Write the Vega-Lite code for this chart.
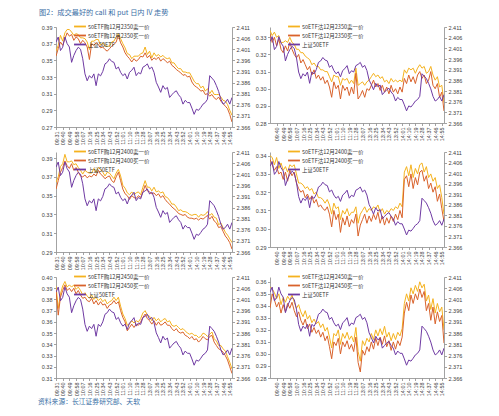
{
"$schema":"https://vega.github.io/schema/vega-lite/v6.json",
"padding":{"left":38,"top":8,"right":5,"bottom":4},
"title":{"text":"图2：成交最好的 call 和 put 日内 IV 走势","anchor":"start","frame":"group","dx":-17,"offset":6,"fontSize":7.2,"font":"Noto Sans CJK SC","fontWeight":"normal","color":"#3b6fa6"},
"data":{"values":[
{"t":"09:31","e":2.4042,"a1":0.361,"b1":0.355,"a2":0.334,"b2":0.332,"a3":0.364,"b3":0.357,"a4":0.340,"b4":0.338,"a5":0.392,"b5":0.388,"a6":0.356,"b6":0.338},
{"t":"09:34","e":2.4065,"a1":0.368,"b1":0.364,"a2":0.331,"b2":0.327,"a3":0.370,"b3":0.366,"a4":0.339,"b4":0.335,"a5":0.372,"b5":0.366,"a6":0.354,"b6":0.350},
{"t":"09:37","e":2.4004,"a1":0.380,"b1":0.372,"a2":0.333,"b2":0.330,"a3":0.381,"b3":0.375,"a4":0.335,"b4":0.332,"a5":0.385,"b5":0.382,"a6":0.351,"b6":0.345},
{"t":"09:40","e":2.4019,"a1":0.373,"b1":0.368,"a2":0.330,"b2":0.325,"a3":0.384,"b3":0.380,"a4":0.339,"b4":0.334,"a5":0.392,"b5":0.388,"a6":0.346,"b6":0.339},
{"t":"09:43","e":2.4065,"a1":0.383,"b1":0.376,"a2":0.331,"b2":0.329,"a3":0.394,"b3":0.387,"a4":0.333,"b4":0.330,"a5":0.396,"b5":0.393,"a6":0.350,"b6":0.343},
{"t":"09:46","e":2.4035,"a1":0.387,"b1":0.383,"a2":0.327,"b2":0.323,"a3":0.386,"b3":0.382,"a4":0.336,"b4":0.331,"a5":0.391,"b5":0.388,"a6":0.341,"b6":0.334},
{"t":"09:49","e":2.4020,"a1":0.387,"b1":0.379,"a2":0.327,"b2":0.321,"a3":0.386,"b3":0.379,"a4":0.332,"b4":0.327,"a5":0.393,"b5":0.390,"a6":0.347,"b6":0.341},
{"t":"09:52","e":2.3951,"a1":0.384,"b1":0.381,"a2":0.328,"b2":0.325,"a3":0.387,"b3":0.384,"a4":0.334,"b4":0.331,"a5":0.391,"b5":0.387,"a6":0.343,"b6":0.335},
{"t":"09:55","e":2.3982,"a1":0.380,"b1":0.374,"a2":0.327,"b2":0.322,"a3":0.383,"b3":0.377,"a4":0.331,"b4":0.326,"a5":0.393,"b5":0.390,"a6":0.348,"b6":0.342},
{"t":"09:58","e":2.4004,"a1":0.382,"b1":0.378,"a2":0.330,"b2":0.327,"a3":0.384,"b3":0.380,"a4":0.335,"b4":0.332,"a5":0.389,"b5":0.385,"a6":0.345,"b6":0.338},
{"t":"10:01","e":2.4019,"a1":0.381,"b1":0.376,"a2":0.327,"b2":0.323,"a3":0.380,"b3":0.375,"a4":0.334,"b4":0.329,"a5":0.391,"b5":0.388,"a6":0.349,"b6":0.343},
{"t":"10:04","e":2.4010,"a1":0.377,"b1":0.370,"a2":0.326,"b2":0.320,"a3":0.377,"b3":0.371,"a4":0.335,"b4":0.331,"a5":0.388,"b5":0.384,"a6":0.343,"b6":0.336},
{"t":"10:07","e":2.3967,"a1":0.377,"b1":0.374,"a2":0.323,"b2":0.318,"a3":0.373,"b3":0.370,"a4":0.330,"b4":0.325,"a5":0.384,"b5":0.381,"a6":0.338,"b6":0.331},
{"t":"10:10","e":2.3899,"a1":0.376,"b1":0.371,"a2":0.323,"b2":0.320,"a3":0.377,"b3":0.372,"a4":0.325,"b4":0.322,"a5":0.386,"b5":0.382,"a6":0.341,"b6":0.335},
{"t":"10:13","e":2.3868,"a1":0.372,"b1":0.366,"a2":0.321,"b2":0.315,"a3":0.375,"b3":0.369,"a4":0.325,"b4":0.320,"a5":0.383,"b5":0.379,"a6":0.335,"b6":0.328},
{"t":"10:16","e":2.3891,"a1":0.363,"b1":0.351,"a2":0.321,"b2":0.317,"a3":0.374,"b3":0.371,"a4":0.324,"b4":0.321,"a5":0.381,"b5":0.378,"a6":0.331,"b6":0.324},
{"t":"10:19","e":2.3880,"a1":0.373,"b1":0.370,"a2":0.319,"b2":0.314,"a3":0.374,"b3":0.370,"a4":0.322,"b4":0.317,"a5":0.384,"b5":0.381,"a6":0.336,"b6":0.329},
{"t":"10:22","e":2.3899,"a1":0.373,"b1":0.368,"a2":0.318,"b2":0.311,"a3":0.379,"b3":0.373,"a4":0.323,"b4":0.319,"a5":0.380,"b5":0.376,"a6":0.329,"b6":0.321},
{"t":"10:25","e":2.3846,"a1":0.375,"b1":0.371,"a2":0.317,"b2":0.313,"a3":0.375,"b3":0.371,"a4":0.321,"b4":0.316,"a5":0.382,"b5":0.379,"a6":0.332,"b6":0.325},
{"t":"10:28","e":2.3899,"a1":0.375,"b1":0.369,"a2":0.314,"b2":0.308,"a3":0.380,"b3":0.377,"a4":0.322,"b4":0.318,"a5":0.379,"b5":0.375,"a6":0.326,"b6":0.318},
{"t":"10:31","e":2.3890,"a1":0.368,"b1":0.365,"a2":0.315,"b2":0.311,"a3":0.378,"b3":0.373,"a4":0.319,"b4":0.314,"a5":0.381,"b5":0.378,"a6":0.329,"b6":0.322},
{"t":"10:34","e":2.3910,"a1":0.371,"b1":0.366,"a2":0.313,"b2":0.306,"a3":0.375,"b3":0.371,"a4":0.320,"b4":0.316,"a5":0.378,"b5":0.375,"a6":0.325,"b6":0.317},
{"t":"10:37","e":2.3944,"a1":0.367,"b1":0.363,"a2":0.313,"b2":0.308,"a3":0.371,"b3":0.368,"a4":0.317,"b4":0.312,"a5":0.380,"b5":0.376,"a6":0.327,"b6":0.320},
{"t":"10:40","e":2.3951,"a1":0.367,"b1":0.361,"a2":0.311,"b2":0.305,"a3":0.375,"b3":0.370,"a4":0.317,"b4":0.313,"a5":0.376,"b5":0.372,"a6":0.322,"b6":0.314},
{"t":"10:43","e":2.3967,"a1":0.367,"b1":0.364,"a2":0.311,"b2":0.307,"a3":0.374,"b3":0.371,"a4":0.316,"b4":0.311,"a5":0.378,"b5":0.375,"a6":0.325,"b6":0.318},
{"t":"10:46","e":2.3955,"a1":0.372,"b1":0.367,"a2":0.310,"b2":0.303,"a3":0.371,"b3":0.366,"a4":0.314,"b4":0.310,"a5":0.379,"b5":0.376,"a6":0.319,"b6":0.311},
{"t":"10:49","e":2.3951,"a1":0.373,"b1":0.369,"a2":0.310,"b2":0.305,"a3":0.368,"b3":0.364,"a4":0.316,"b4":0.312,"a5":0.382,"b5":0.379,"a6":0.322,"b6":0.315},
{"t":"10:52","e":2.3921,"a1":0.378,"b1":0.372,"a2":0.307,"b2":0.301,"a3":0.374,"b3":0.370,"a4":0.313,"b4":0.308,"a5":0.379,"b5":0.376,"a6":0.314,"b6":0.306},
{"t":"10:55","e":2.3930,"a1":0.382,"b1":0.380,"a2":0.304,"b2":0.295,"a3":0.378,"b3":0.375,"a4":0.308,"b4":0.301,"a5":0.382,"b5":0.378,"a6":0.305,"b6":0.296},
{"t":"10:58","e":2.3906,"a1":0.376,"b1":0.371,"a2":0.308,"b2":0.304,"a3":0.371,"b3":0.366,"a4":0.314,"b4":0.310,"a5":0.374,"b5":0.370,"a6":0.317,"b6":0.310},
{"t":"11:01","e":2.3891,"a1":0.370,"b1":0.366,"a2":0.307,"b2":0.300,"a3":0.361,"b3":0.357,"a4":0.311,"b4":0.305,"a5":0.367,"b5":0.364,"a6":0.315,"b6":0.307},
{"t":"11:04","e":2.3900,"a1":0.365,"b1":0.359,"a2":0.307,"b2":0.302,"a3":0.358,"b3":0.352,"a4":0.312,"b4":0.308,"a5":0.363,"b5":0.360,"a6":0.320,"b6":0.313},
{"t":"11:07","e":2.3876,"a1":0.358,"b1":0.355,"a2":0.302,"b2":0.294,"a3":0.353,"b3":0.350,"a4":0.305,"b4":0.298,"a5":0.357,"b5":0.352,"a6":0.308,"b6":0.300},
{"t":"11:10","e":2.3906,"a1":0.357,"b1":0.352,"a2":0.306,"b2":0.302,"a3":0.351,"b3":0.346,"a4":0.310,"b4":0.306,"a5":0.358,"b5":0.355,"a6":0.317,"b6":0.310},
{"t":"11:13","e":2.3915,"a1":0.352,"b1":0.348,"a2":0.305,"b2":0.299,"a3":0.354,"b3":0.350,"a4":0.308,"b4":0.302,"a5":0.361,"b5":0.358,"a6":0.313,"b6":0.306},
{"t":"11:16","e":2.3929,"a1":0.355,"b1":0.352,"a2":0.306,"b2":0.301,"a3":0.351,"b3":0.348,"a4":0.311,"b4":0.307,"a5":0.359,"b5":0.355,"a6":0.318,"b6":0.311},
{"t":"11:19","e":2.3891,"a1":0.355,"b1":0.349,"a2":0.303,"b2":0.296,"a3":0.353,"b3":0.347,"a4":0.307,"b4":0.301,"a5":0.361,"b5":0.358,"a6":0.312,"b6":0.304},
{"t":"11:22","e":2.3905,"a1":0.355,"b1":0.351,"a2":0.305,"b2":0.301,"a3":0.354,"b3":0.350,"a4":0.309,"b4":0.305,"a5":0.360,"b5":0.357,"a6":0.315,"b6":0.308},
{"t":"11:25","e":2.3899,"a1":0.358,"b1":0.355,"a2":0.303,"b2":0.297,"a3":0.351,"b3":0.348,"a4":0.309,"b4":0.303,"a5":0.363,"b5":0.360,"a6":0.310,"b6":0.302},
{"t":"11:28","e":2.3929,"a1":0.359,"b1":0.354,"a2":0.312,"b2":0.309,"a3":0.359,"b3":0.354,"a4":0.312,"b4":0.308,"a5":0.368,"b5":0.364,"a6":0.322,"b6":0.314},
{"t":"13:01","e":2.3935,"a1":0.366,"b1":0.359,"a2":0.302,"b2":0.294,"a3":0.366,"b3":0.361,"a4":0.303,"b4":0.296,"a5":0.370,"b5":0.367,"a6":0.302,"b6":0.293},
{"t":"13:04","e":2.3944,"a1":0.357,"b1":0.353,"a2":0.303,"b2":0.296,"a3":0.359,"b3":0.355,"a4":0.308,"b4":0.302,"a5":0.366,"b5":0.363,"a6":0.294,"b6":0.285},
{"t":"13:07","e":2.3921,"a1":0.361,"b1":0.356,"a2":0.304,"b2":0.299,"a3":0.359,"b3":0.354,"a4":0.310,"b4":0.305,"a5":0.365,"b5":0.361,"a6":0.311,"b6":0.303},
{"t":"13:10","e":2.3930,"a1":0.353,"b1":0.350,"a2":0.302,"b2":0.295,"a3":0.355,"b3":0.352,"a4":0.312,"b4":0.308,"a5":0.361,"b5":0.358,"a6":0.307,"b6":0.299},
{"t":"13:13","e":2.3906,"a1":0.359,"b1":0.353,"a2":0.304,"b2":0.300,"a3":0.359,"b3":0.353,"a4":0.309,"b4":0.303,"a5":0.364,"b5":0.361,"a6":0.313,"b6":0.306},
{"t":"13:16","e":2.3861,"a1":0.355,"b1":0.351,"a2":0.305,"b2":0.299,"a3":0.354,"b3":0.350,"a4":0.311,"b4":0.307,"a5":0.361,"b5":0.357,"a6":0.310,"b6":0.302},
{"t":"13:19","e":2.3840,"a1":0.357,"b1":0.354,"a2":0.307,"b2":0.302,"a3":0.355,"b3":0.352,"a4":0.310,"b4":0.304,"a5":0.363,"b5":0.360,"a6":0.317,"b6":0.310},
{"t":"13:22","e":2.3816,"a1":0.354,"b1":0.349,"a2":0.309,"b2":0.305,"a3":0.353,"b3":0.348,"a4":0.312,"b4":0.308,"a5":0.360,"b5":0.357,"a6":0.312,"b6":0.304},
{"t":"13:25","e":2.3846,"a1":0.356,"b1":0.352,"a2":0.307,"b2":0.301,"a3":0.354,"b3":0.350,"a4":0.311,"b4":0.305,"a5":0.362,"b5":0.358,"a6":0.320,"b6":0.313},
{"t":"13:28","e":2.3830,"a1":0.353,"b1":0.350,"a2":0.308,"b2":0.303,"a3":0.349,"b3":0.346,"a4":0.313,"b4":0.309,"a5":0.363,"b5":0.360,"a6":0.315,"b6":0.307},
{"t":"13:31","e":2.3838,"a1":0.352,"b1":0.347,"a2":0.306,"b2":0.299,"a3":0.348,"b3":0.343,"a4":0.309,"b4":0.303,"a5":0.360,"b5":0.357,"a6":0.321,"b6":0.314},
{"t":"13:34","e":2.3793,"a1":0.353,"b1":0.349,"a2":0.307,"b2":0.302,"a3":0.345,"b3":0.341,"a4":0.311,"b4":0.307,"a5":0.361,"b5":0.357,"a6":0.316,"b6":0.308},
{"t":"13:37","e":2.3805,"a1":0.347,"b1":0.344,"a2":0.304,"b2":0.298,"a3":0.341,"b3":0.338,"a4":0.308,"b4":0.302,"a5":0.357,"b5":0.354,"a6":0.323,"b6":0.315},
{"t":"13:40","e":2.3816,"a1":0.347,"b1":0.342,"a2":0.305,"b2":0.301,"a3":0.341,"b3":0.336,"a4":0.310,"b4":0.306,"a5":0.356,"b5":0.352,"a6":0.314,"b6":0.306},
{"t":"13:43","e":2.3823,"a1":0.343,"b1":0.339,"a2":0.303,"b2":0.297,"a3":0.338,"b3":0.334,"a4":0.309,"b4":0.303,"a5":0.357,"b5":0.354,"a6":0.318,"b6":0.311},
{"t":"13:46","e":2.3805,"a1":0.340,"b1":0.337,"a2":0.306,"b2":0.302,"a3":0.334,"b3":0.331,"a4":0.311,"b4":0.307,"a5":0.355,"b5":0.351,"a6":0.311,"b6":0.303},
{"t":"13:49","e":2.3793,"a1":0.340,"b1":0.335,"a2":0.304,"b2":0.298,"a3":0.335,"b3":0.330,"a4":0.310,"b4":0.304,"a5":0.353,"b5":0.350,"a6":0.317,"b6":0.310},
{"t":"13:52","e":2.3763,"a1":0.336,"b1":0.332,"a2":0.305,"b2":0.300,"a3":0.333,"b3":0.329,"a4":0.312,"b4":0.308,"a5":0.354,"b5":0.351,"a6":0.312,"b6":0.304},
{"t":"13:55","e":2.3780,"a1":0.336,"b1":0.333,"a2":0.304,"b2":0.297,"a3":0.333,"b3":0.330,"a4":0.311,"b4":0.305,"a5":0.352,"b5":0.348,"a6":0.318,"b6":0.311},
{"t":"13:58","e":2.3770,"a1":0.335,"b1":0.330,"a2":0.305,"b2":0.301,"a3":0.332,"b3":0.327,"a4":0.314,"b4":0.310,"a5":0.350,"b5":0.347,"a6":0.315,"b6":0.307},
{"t":"14:01","e":2.3770,"a1":0.335,"b1":0.331,"a2":0.304,"b2":0.298,"a3":0.330,"b3":0.326,"a4":0.312,"b4":0.306,"a5":0.349,"b5":0.345,"a6":0.321,"b6":0.314},
{"t":"14:04","e":2.3745,"a1":0.330,"b1":0.324,"a2":0.311,"b2":0.306,"a3":0.329,"b3":0.326,"a4":0.331,"b4":0.327,"a5":0.350,"b5":0.347,"a6":0.342,"b6":0.334},
{"t":"14:07","e":2.3717,"a1":0.325,"b1":0.320,"a2":0.309,"b2":0.303,"a3":0.330,"b3":0.325,"a4":0.334,"b4":0.329,"a5":0.348,"b5":0.344,"a6":0.350,"b6":0.343},
{"t":"14:10","e":2.3740,"a1":0.322,"b1":0.318,"a2":0.312,"b2":0.308,"a3":0.330,"b3":0.326,"a4":0.329,"b4":0.323,"a5":0.348,"b5":0.345,"a6":0.344,"b6":0.336},
{"t":"14:13","e":2.3735,"a1":0.322,"b1":0.316,"a2":0.311,"b2":0.304,"a3":0.327,"b3":0.324,"a4":0.335,"b4":0.330,"a5":0.346,"b5":0.342,"a6":0.355,"b6":0.349},
{"t":"14:16","e":2.3748,"a1":0.317,"b1":0.313,"a2":0.312,"b2":0.307,"a3":0.330,"b3":0.326,"a4":0.328,"b4":0.322,"a5":0.347,"b5":0.344,"a6":0.350,"b6":0.342},
{"t":"14:19","e":2.3763,"a1":0.319,"b1":0.314,"a2":0.309,"b2":0.303,"a3":0.329,"b3":0.325,"a4":0.333,"b4":0.328,"a5":0.350,"b5":0.347,"a6":0.357,"b6":0.350},
{"t":"14:22","e":2.3770,"a1":0.313,"b1":0.309,"a2":0.312,"b2":0.308,"a3":0.330,"b3":0.327,"a4":0.330,"b4":0.324,"a5":0.349,"b5":0.345,"a6":0.352,"b6":0.345},
{"t":"14:25","e":2.3785,"a1":0.316,"b1":0.310,"a2":0.314,"b2":0.310,"a3":0.333,"b3":0.329,"a4":0.335,"b4":0.331,"a5":0.347,"b5":0.344,"a6":0.360,"b6":0.354},
{"t":"14:28","e":2.3891,"a1":0.310,"b1":0.307,"a2":0.312,"b2":0.306,"a3":0.329,"b3":0.325,"a4":0.336,"b4":0.332,"a5":0.349,"b5":0.347,"a6":0.355,"b6":0.347},
{"t":"14:31","e":2.3880,"a1":0.314,"b1":0.309,"a2":0.313,"b2":0.308,"a3":0.331,"b3":0.328,"a4":0.331,"b4":0.326,"a5":0.351,"b5":0.348,"a6":0.358,"b6":0.352},
{"t":"14:34","e":2.3868,"a1":0.309,"b1":0.305,"a2":0.309,"b2":0.303,"a3":0.327,"b3":0.323,"a4":0.334,"b4":0.329,"a5":0.345,"b5":0.342,"a6":0.344,"b6":0.336},
{"t":"14:37","e":2.3846,"a1":0.309,"b1":0.303,"a2":0.310,"b2":0.305,"a3":0.326,"b3":0.321,"a4":0.328,"b4":0.322,"a5":0.343,"b5":0.339,"a6":0.349,"b6":0.342},
{"t":"14:40","e":2.3820,"a1":0.309,"b1":0.306,"a2":0.313,"b2":0.310,"a3":0.319,"b3":0.316,"a4":0.330,"b4":0.325,"a5":0.339,"b5":0.336,"a6":0.337,"b6":0.328},
{"t":"14:43","e":2.3785,"a1":0.306,"b1":0.301,"a2":0.308,"b2":0.302,"a3":0.321,"b3":0.317,"a4":0.326,"b4":0.320,"a5":0.339,"b5":0.335,"a6":0.346,"b6":0.339},
{"t":"14:46","e":2.3763,"a1":0.302,"b1":0.298,"a2":0.305,"b2":0.300,"a3":0.316,"b3":0.312,"a4":0.328,"b4":0.323,"a5":0.336,"b5":0.333,"a6":0.334,"b6":0.325},
{"t":"14:49","e":2.3770,"a1":0.301,"b1":0.295,"a2":0.307,"b2":0.303,"a3":0.311,"b3":0.307,"a4":0.322,"b4":0.315,"a5":0.334,"b5":0.330,"a6":0.342,"b6":0.335},
{"t":"14:52","e":2.3785,"a1":0.297,"b1":0.292,"a2":0.301,"b2":0.295,"a3":0.308,"b3":0.304,"a4":0.324,"b4":0.319,"a5":0.329,"b5":0.326,"a6":0.335,"b6":0.327},
{"t":"14:55","e":2.3763,"a1":0.290,"b1":0.285,"a2":0.302,"b2":0.298,"a3":0.304,"b3":0.300,"a4":0.317,"b4":0.311,"a5":0.324,"b5":0.320,"a6":0.339,"b6":0.332},
{"t":"14:58","e":2.3793,"a1":0.284,"b1":0.276,"a2":0.292,"b2":0.287,"a3":0.300,"b3":0.293,"a4":0.308,"b4":0.304,"a5":0.318,"b5":0.314,"a6":0.320,"b6":0.309}
]},
"columns":2,
"spacing":{"row":25,"column":38},
"bounds":"flush",
"resolve":{"scale":{"color":"independent"},"legend":{"color":"independent"}},
"concat":[
{"width":176,"height":100,
 "transform":[{"fold":["a1","b1","e"],"as":["k","v"]}],
 "encoding":{"x":{"field":"t","type":"ordinal","scale":{"type":"point","padding":0},"axis":{"values":["09:31","09:40","09:49","09:58","10:07","10:16","10:25","10:34","10:43","10:52","11:01","11:10","11:19","11:28","13:07","13:16","13:25","13:34","13:43","13:52","14:01","14:10","14:19","14:28","14:37","14:46","14:55"],"labelAngle":-90,"title":null,"labelOverlap":false}}},
 "layer":[
  {"transform":[{"filter":"datum.k!='e'"}],"mark":{"type":"line","strokeWidth":1,"clip":true},
   "encoding":{"y":{"field":"v","type":"quantitative","scale":{"domain":[0.27,0.39],"zero":false,"nice":false},"axis":{"values":[0.27,0.29,0.31,0.33,0.35,0.37,0.39],"format":".2f","title":null}},
    "color":{"field":"k","type":"nominal","scale":{"domain":["a1","b1","e"],"range":["#F5B21E","#D9622B","#6F3AA3"]},"legend":{"title":null,"labelExpr":"datum.label=='e'?'上证50ETF':datum.label=='a1'?'50ETF购12月2350卖一价':'50ETF购12月2350买一价'"}}}},
  {"transform":[{"filter":"datum.k=='e'"}],"mark":{"type":"line","strokeWidth":1,"clip":true},
   "encoding":{"y":{"field":"v","type":"quantitative","scale":{"domain":[2.366,2.411],"zero":false,"nice":false},"axis":{"orient":"right","values":[2.366,2.371,2.376,2.381,2.386,2.391,2.396,2.401,2.406,2.411],"format":".3f","title":null}},"color":{"field":"k","type":"nominal"}}}
 ],
 "resolve":{"scale":{"y":"independent"}}},
{"width":174,"height":96,
 "transform":[{"fold":["a2","b2","e"],"as":["k","v"]}],
 "encoding":{"x":{"field":"t","type":"ordinal","scale":{"type":"point","padding":0},"axis":{"values":["09:31","09:40","09:49","09:58","10:07","10:16","10:25","10:34","10:43","10:52","11:01","11:10","11:19","11:28","13:07","13:16","13:25","13:34","13:43","13:52","14:01","14:10","14:19","14:28","14:37","14:46","14:55"],"labelAngle":-90,"title":null,"labelOverlap":false}}},
 "layer":[
  {"transform":[{"filter":"datum.k!='e'"}],"mark":{"type":"line","strokeWidth":1,"clip":true},
   "encoding":{"y":{"field":"v","type":"quantitative","scale":{"domain":[0.28,0.336],"zero":false,"nice":false},"axis":{"values":[0.28,0.29,0.30,0.31,0.32,0.33],"format":".2f","title":null}},
    "color":{"field":"k","type":"nominal","scale":{"domain":["a2","b2","e"],"range":["#F5B21E","#D9622B","#6F3AA3"]},"legend":{"title":null,"labelExpr":"datum.label=='e'?'上证50ETF':datum.label=='a2'?'50ETF沽12月2350卖一价':'50ETF沽12月2350买一价'"}}}},
  {"transform":[{"filter":"datum.k=='e'"}],"mark":{"type":"line","strokeWidth":1,"clip":true},
   "encoding":{"y":{"field":"v","type":"quantitative","scale":{"domain":[2.366,2.411],"zero":false,"nice":false},"axis":{"orient":"right","values":[2.366,2.371,2.376,2.381,2.386,2.391,2.396,2.401,2.406,2.411],"format":".3f","title":null}},"color":{"field":"k","type":"nominal"}}}
 ],
 "resolve":{"scale":{"y":"independent"}}},
{"width":176,"height":100,
 "transform":[{"fold":["a3","b3","e"],"as":["k","v"]}],
 "encoding":{"x":{"field":"t","type":"ordinal","scale":{"type":"point","padding":0},"axis":{"values":["09:31","09:40","09:49","09:58","10:07","10:16","10:25","10:34","10:43","10:52","11:01","11:10","11:19","11:28","13:07","13:16","13:25","13:34","13:43","13:52","14:01","14:10","14:19","14:28","14:37","14:46","14:55"],"labelAngle":-90,"title":null,"labelOverlap":false}}},
 "layer":[
  {"transform":[{"filter":"datum.k!='e'"}],"mark":{"type":"line","strokeWidth":1,"clip":true},
   "encoding":{"y":{"field":"v","type":"quantitative","scale":{"domain":[0.29,0.3965],"zero":false,"nice":false},"axis":{"values":[0.29,0.31,0.33,0.35,0.37,0.39],"format":".2f","title":null}},
    "color":{"field":"k","type":"nominal","scale":{"domain":["a3","b3","e"],"range":["#F5B21E","#D9622B","#6F3AA3"]},"legend":{"title":null,"labelExpr":"datum.label=='e'?'上证50ETF':datum.label=='a3'?'50ETF购12月2400卖一价':'50ETF购12月2400买一价'"}}}},
  {"transform":[{"filter":"datum.k=='e'"}],"mark":{"type":"line","strokeWidth":1,"clip":true},
   "encoding":{"y":{"field":"v","type":"quantitative","scale":{"domain":[2.366,2.411],"zero":false,"nice":false},"axis":{"orient":"right","values":[2.366,2.371,2.376,2.381,2.386,2.391,2.396,2.401,2.406,2.411],"format":".3f","title":null}},"color":{"field":"k","type":"nominal"}}}
 ],
 "resolve":{"scale":{"y":"independent"}}},
{"width":174,"height":95,
 "transform":[{"fold":["a4","b4","e"],"as":["k","v"]}],
 "encoding":{"x":{"field":"t","type":"ordinal","scale":{"type":"point","padding":0},"axis":{"values":["09:31","09:40","09:49","09:58","10:07","10:16","10:25","10:34","10:43","10:52","11:01","11:10","11:19","11:28","13:07","13:16","13:25","13:34","13:43","13:52","14:01","14:10","14:19","14:28","14:37","14:46","14:55"],"labelAngle":-90,"title":null,"labelOverlap":false}}},
 "layer":[
  {"transform":[{"filter":"datum.k!='e'"}],"mark":{"type":"line","strokeWidth":1,"clip":true},
   "encoding":{"y":{"field":"v","type":"quantitative","scale":{"domain":[0.29,0.342],"zero":false,"nice":false},"axis":{"values":[0.29,0.30,0.31,0.32,0.33,0.34],"format":".2f","title":null}},
    "color":{"field":"k","type":"nominal","scale":{"domain":["a4","b4","e"],"range":["#F5B21E","#D9622B","#6F3AA3"]},"legend":{"title":null,"labelExpr":"datum.label=='e'?'上证50ETF':datum.label=='a4'?'50ETF沽12月2400卖一价':'50ETF沽12月2400买一价'"}}}},
  {"transform":[{"filter":"datum.k=='e'"}],"mark":{"type":"line","strokeWidth":1,"clip":true},
   "encoding":{"y":{"field":"v","type":"quantitative","scale":{"domain":[2.366,2.411],"zero":false,"nice":false},"axis":{"orient":"right","values":[2.366,2.371,2.376,2.381,2.386,2.391,2.396,2.401,2.406,2.411],"format":".3f","title":null}},"color":{"field":"k","type":"nominal"}}}
 ],
 "resolve":{"scale":{"y":"independent"}}},
{"width":176,"height":101,
 "title":{"text":"资料来源：长江证券研究部、天软","orient":"bottom","anchor":"start","frame":"group","dx":-18,"offset":3,"fontSize":6.8,"font":"Noto Sans CJK SC","fontWeight":"normal","color":"#3b6fa6"},
 "transform":[{"fold":["a5","b5","e"],"as":["k","v"]}],
 "encoding":{"x":{"field":"t","type":"ordinal","scale":{"type":"point","padding":0},"axis":{"values":["09:31","09:40","09:49","09:58","10:07","10:16","10:25","10:34","10:43","10:52","11:01","11:10","11:19","11:28","13:07","13:16","13:25","13:34","13:43","13:52","14:01","14:10","14:19","14:28","14:37","14:46","14:55"],"labelAngle":-90,"title":null,"labelOverlap":false}}},
 "layer":[
  {"transform":[{"filter":"datum.k!='e'"}],"mark":{"type":"line","strokeWidth":1,"clip":true},
   "encoding":{"y":{"field":"v","type":"quantitative","scale":{"domain":[0.31,0.40],"zero":false,"nice":false},"axis":{"values":[0.31,0.32,0.33,0.34,0.35,0.36,0.37,0.38,0.39,0.40],"format":".2f","title":null}},
    "color":{"field":"k","type":"nominal","scale":{"domain":["a5","b5","e"],"range":["#F5B21E","#D9622B","#6F3AA3"]},"legend":{"title":null,"labelExpr":"datum.label=='e'?'上证50ETF':datum.label=='a5'?'50ETF购12月2450卖一价':'50ETF购12月2450买一价'"}}}},
  {"transform":[{"filter":"datum.k=='e'"}],"mark":{"type":"line","strokeWidth":1,"clip":true},
   "encoding":{"y":{"field":"v","type":"quantitative","scale":{"domain":[2.366,2.411],"zero":false,"nice":false},"axis":{"orient":"right","values":[2.366,2.371,2.376,2.381,2.386,2.391,2.396,2.401,2.406,2.411],"format":".3f","title":null}},"color":{"field":"k","type":"nominal"}}}
 ],
 "resolve":{"scale":{"y":"independent"}}},
{"width":174,"height":101,
 "transform":[{"fold":["a6","b6","e"],"as":["k","v"]}],
 "encoding":{"x":{"field":"t","type":"ordinal","scale":{"type":"point","padding":0},"axis":{"values":["09:31","09:40","09:49","09:58","10:07","10:16","10:25","10:34","10:43","10:52","11:01","11:10","11:19","11:28","13:07","13:16","13:25","13:34","13:43","13:52","14:01","14:10","14:19","14:28","14:37","14:46","14:55"],"labelAngle":-90,"title":null,"labelOverlap":false}}},
 "layer":[
  {"transform":[{"filter":"datum.k!='e'"}],"mark":{"type":"line","strokeWidth":1,"clip":true},
   "encoding":{"y":{"field":"v","type":"quantitative","scale":{"domain":[0.28,0.364],"zero":false,"nice":false},"axis":{"values":[0.28,0.29,0.30,0.31,0.32,0.33,0.34,0.35,0.36],"format":".2f","title":null}},
    "color":{"field":"k","type":"nominal","scale":{"domain":["a6","b6","e"],"range":["#F5B21E","#D9622B","#6F3AA3"]},"legend":{"title":null,"labelExpr":"datum.label=='e'?'上证50ETF':datum.label=='a6'?'50ETF沽12月2450卖一价':'50ETF沽12月2450买一价'"}}}},
  {"transform":[{"filter":"datum.k=='e'"}],"mark":{"type":"line","strokeWidth":1,"clip":true},
   "encoding":{"y":{"field":"v","type":"quantitative","scale":{"domain":[2.366,2.411],"zero":false,"nice":false},"axis":{"orient":"right","values":[2.366,2.371,2.376,2.381,2.386,2.391,2.396,2.401,2.406,2.411],"format":".3f","title":null}},"color":{"field":"k","type":"nominal"}}}
 ],
 "resolve":{"scale":{"y":"independent"}}}
],
"config":{
 "view":{"stroke":null},
 "axis":{"labelFont":"Liberation Sans","labelFontSize":5.5,"labelColor":"#404040","domainColor":"#8c8c8c","tickColor":"#8c8c8c","tickSize":2.5,"labelPadding":1.5,"grid":false,"domainWidth":0.8,"tickWidth":0.8},
 "legend":{"orient":"none","legendX":19.5,"legendY":-5,"symbolType":"M-1.7,0H1.7","symbolSize":49,"symbolStrokeWidth":1.8,"labelFontSize":5.5,"labelFont":"Noto Sans CJK SC","labelColor":"#333333","labelOffset":3.5,"rowPadding":0,"padding":0,"labelLimit":200}
}
}
